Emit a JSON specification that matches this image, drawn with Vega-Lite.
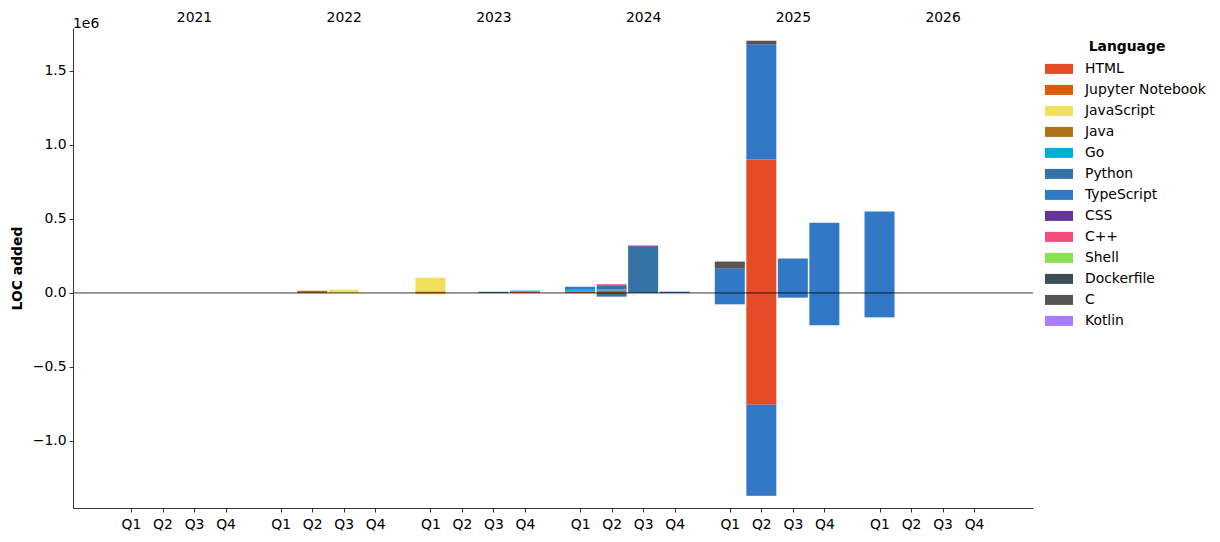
{
  "$schema": "https://vega.github.io/schema/vega-lite/v6.json",
  "width": 960,
  "height": 480,
  "autosize": {"type": "none"},
  "padding": {"left": 73, "top": 28, "right": 187, "bottom": 34},
  "title": {"text": "1e6", "anchor": "start", "frame": "group", "fontSize": 13.9, "fontWeight": "normal", "font": "DejaVu Sans", "offset": -21, "color": "black"},
  "config": {"view": {"stroke": null}, "font": "DejaVu Sans"},
  "data": {"values": [
    {"year": 2022, "quarter": 2, "language": "Java", "loc": 15000},
    {"year": 2022, "quarter": 3, "language": "JavaScript", "loc": 22000},
    {"year": 2023, "quarter": 1, "language": "HTML", "loc": 10000},
    {"year": 2023, "quarter": 1, "language": "JavaScript", "loc": 93000},
    {"year": 2023, "quarter": 1, "language": "JavaScript", "loc": -10000},
    {"year": 2023, "quarter": 3, "language": "Python", "loc": 8000},
    {"year": 2023, "quarter": 4, "language": "HTML", "loc": 6000},
    {"year": 2023, "quarter": 4, "language": "Jupyter Notebook", "loc": 4000},
    {"year": 2023, "quarter": 4, "language": "Go", "loc": 6000},
    {"year": 2024, "quarter": 1, "language": "HTML", "loc": 10000},
    {"year": 2024, "quarter": 1, "language": "Go", "loc": 12000},
    {"year": 2024, "quarter": 1, "language": "TypeScript", "loc": 20000},
    {"year": 2024, "quarter": 2, "language": "HTML", "loc": 16000},
    {"year": 2024, "quarter": 2, "language": "Go", "loc": 7000},
    {"year": 2024, "quarter": 2, "language": "Python", "loc": 29000},
    {"year": 2024, "quarter": 2, "language": "C++", "loc": 7000},
    {"year": 2024, "quarter": 2, "language": "Python", "loc": -25000},
    {"year": 2024, "quarter": 3, "language": "Python", "loc": 312000},
    {"year": 2024, "quarter": 3, "language": "CSS", "loc": 8000},
    {"year": 2024, "quarter": 4, "language": "TypeScript", "loc": 9000},
    {"year": 2025, "quarter": 1, "language": "TypeScript", "loc": 164000},
    {"year": 2025, "quarter": 1, "language": "C", "loc": 48000},
    {"year": 2025, "quarter": 1, "language": "TypeScript", "loc": -77000},
    {"year": 2025, "quarter": 2, "language": "HTML", "loc": 901000},
    {"year": 2025, "quarter": 2, "language": "TypeScript", "loc": 777000},
    {"year": 2025, "quarter": 2, "language": "C", "loc": 26000},
    {"year": 2025, "quarter": 2, "language": "HTML", "loc": -755000},
    {"year": 2025, "quarter": 2, "language": "TypeScript", "loc": -610000},
    {"year": 2025, "quarter": 2, "language": "C", "loc": -5000},
    {"year": 2025, "quarter": 3, "language": "TypeScript", "loc": 232000},
    {"year": 2025, "quarter": 3, "language": "TypeScript", "loc": -32000},
    {"year": 2025, "quarter": 4, "language": "TypeScript", "loc": 475000},
    {"year": 2025, "quarter": 4, "language": "TypeScript", "loc": -219000},
    {"year": 2026, "quarter": 1, "language": "TypeScript", "loc": 550000},
    {"year": 2026, "quarter": 1, "language": "TypeScript", "loc": -165000}
  ]},
  "transform": [
    {"calculate": "(datum.year - 2021) * 4.75 + datum.quarter - 1", "as": "pos"},
    {"calculate": "indexof(['HTML','Jupyter Notebook','JavaScript','Java','Go','Python','TypeScript','CSS','C++','Shell','Dockerfile','C','Kotlin'], datum.language)", "as": "ord"}
  ],
  "layer": [
    {
      "mark": {"type": "bar", "width": 30, "orient": "vertical"},
      "encoding": {
        "x": {
          "field": "pos", "type": "quantitative",
          "scale": {"domain": [-1.84, 28.62], "nice": false, "zero": false, "padding": 0},
          "axis": {
            "orient": "bottom", "title": null, "grid": false,
            "values": [0, 1, 2, 3, 4.75, 5.75, 6.75, 7.75, 9.5, 10.5, 11.5, 12.5, 14.25, 15.25, 16.25, 17.25, 19, 20, 21, 22, 23.75, 24.75, 25.75, 26.75],
            "labelExpr": "'Q' + (round(datum.value - floor((datum.value + 0.5) / 4.75) * 4.75) + 1)",
            "tickSize": 4, "labelPadding": 5, "labelFontSize": 13.9,
            "domainColor": "black", "tickColor": "black", "labelColor": "black",
            "domainWidth": 0.8, "tickWidth": 0.8,
            "labelFlush": false, "labelOverlap": false
          }
        },
        "y": {
          "field": "loc", "type": "quantitative", "stack": "zero",
          "scale": {"domain": [-1453000, 1790000], "nice": false, "zero": false, "padding": 0},
          "axis": {
            "title": "LOC added", "titleFontWeight": "bold", "titleFontSize": 13.9, "titleColor": "black",
            "values": [-1000000, -500000, 0, 500000, 1000000, 1500000],
            "labelExpr": "format(datum.value / 1e6, '.1f')",
            "grid": false, "tickSize": 4, "labelPadding": 3, "labelFontSize": 13.9,
            "domainColor": "black", "tickColor": "black", "labelColor": "black",
            "domainWidth": 0.8, "tickWidth": 0.8, "titlePadding": 8
          }
        },
        "color": {
          "field": "language", "type": "nominal",
          "scale": {
            "domain": ["HTML", "Jupyter Notebook", "JavaScript", "Java", "Go", "Python", "TypeScript", "CSS", "C++", "Shell", "Dockerfile", "C", "Kotlin"],
            "range": ["#e34c26", "#DA5B0B", "#f1e05a", "#b07219", "#00ADD8", "#3572A5", "#3178c6", "#663399", "#f34b7d", "#89e051", "#384d54", "#555555", "#A97BFF"]
          },
          "legend": {
            "title": "Language", "orient": "right", "offset": 4, "padding": 12,
            "titleAnchor": "middle", "titleFontWeight": "bold", "titleFontSize": 13.9, "titleColor": "black",
            "labelFontSize": 13.9, "labelColor": "black",
            "symbolType": "M-1.4,-0.5H1.4V0.5H-1.4Z", "symbolSize": 400, "symbolStrokeWidth": 0,
            "rowPadding": 4, "labelOffset": 16, "titlePadding": 5
          }
        },
        "order": {"field": "ord", "type": "quantitative"}
      }
    },
    {
      "mark": {"type": "point", "opacity": 0},
      "encoding": {
        "x": {
          "field": "pos", "type": "quantitative",
          "scale": {"domain": [-1.84, 28.62], "nice": false, "zero": false, "padding": 0},
          "axis": {
            "orient": "top", "title": null, "grid": false, "ticks": false, "domain": false,
            "values": [2, 6.75, 11.5, 16.25, 21, 25.75],
            "labelExpr": "'' + (2021 + floor(datum.value / 4.75))",
            "labelPadding": 4, "labelFontSize": 13.9, "labelColor": "black",
            "labelFlush": false, "labelOverlap": false
          }
        },
        "y": {"field": "loc", "type": "quantitative", "scale": {"domain": [-1453000, 1790000], "nice": false, "zero": false, "padding": 0}, "axis": null}
      }
    },
    {
      "data": {"values": [{}]},
      "mark": {"type": "rule", "color": "black", "strokeWidth": 0.8},
      "encoding": {"y": {"datum": 0, "axis": null}}
    }
  ],
  "resolve": {"axis": {"x": "independent", "y": "independent"}}
}
